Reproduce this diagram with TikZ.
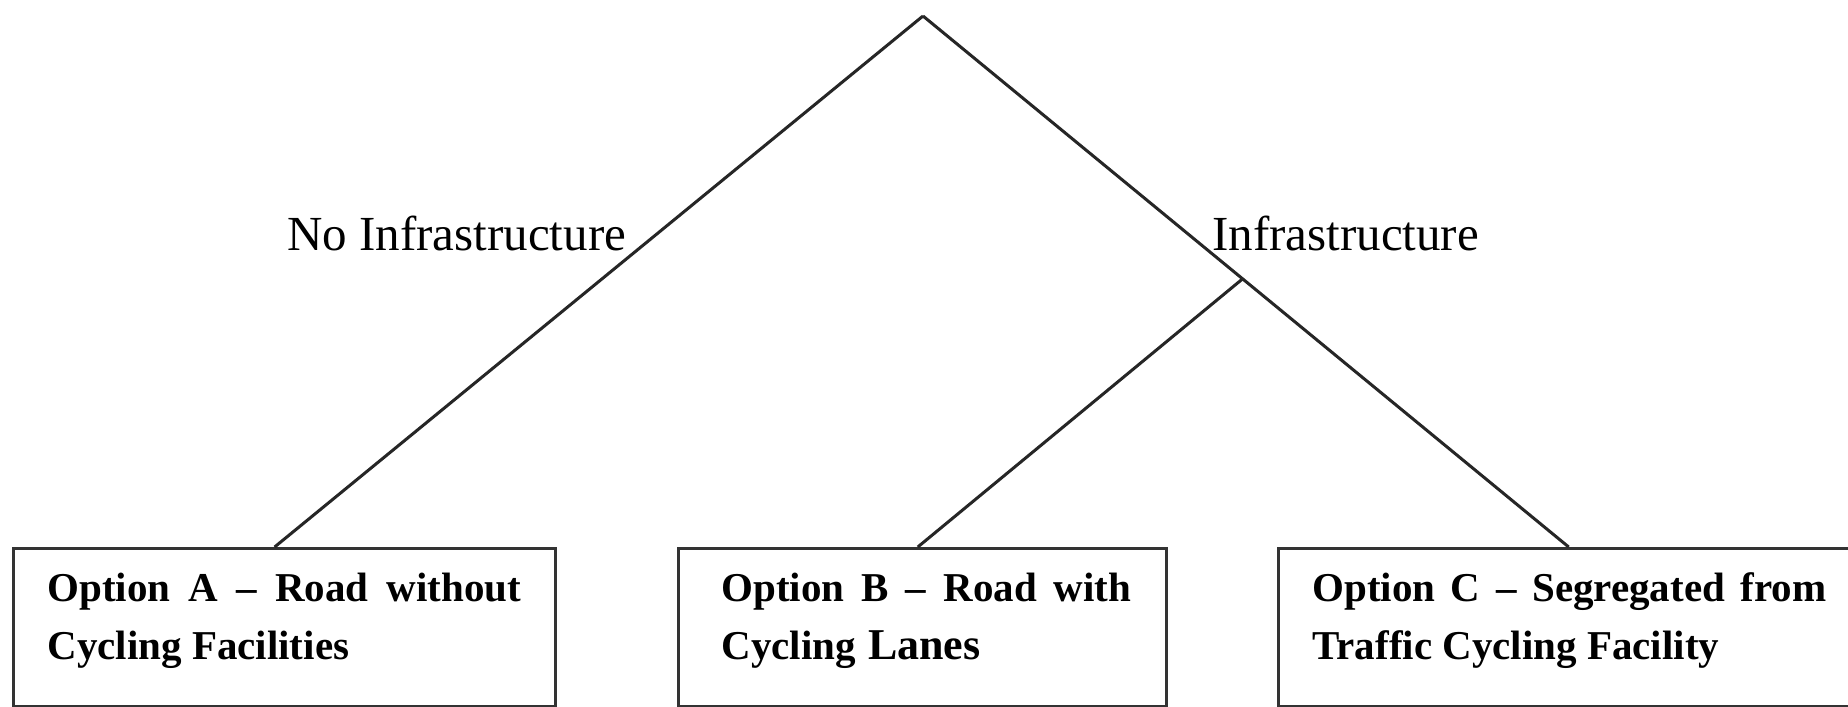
\documentclass[tikz,border=0pt]{standalone}
\usepackage{fontspec}
\setmainfont{Liberation Serif}
\usetikzlibrary{calc}
\begin{document}
\begin{tikzpicture}[x=0.5pt,y=-0.5pt,
  conn/.style={draw=black!85, line width=1.5pt},
  optbox/.style={draw=black!80, line width=1.7pt, rectangle, anchor=north west, inner sep=0pt, minimum height=79pt},
  branchlbl/.style={anchor=base west, inner sep=0pt, font=\fontsize{24.5}{29}\selectfont},
  boxtxt/.style={anchor=base west, inner sep=0pt, font=\fontsize{20.5}{29}\selectfont\bfseries}]
\useasboundingbox (0,0) rectangle (1848,707);
\fill[white] (0,0) rectangle (1848,707);
% option boxes
\node[optbox, minimum width=271pt] (A) at (12,547) {};
\node[optbox, minimum width=244pt] (B) at (677,547) {};
\node[optbox, minimum width=301.5pt] (C) at (1277,547) {};
% tree points
\coordinate (root) at (923,16);
\coordinate (atop) at ($(A.north west)!0.4815!(A.north east)$);
\coordinate (btop) at ($(B.north west)!0.49!(B.north east)$);
\coordinate (ctop) at ($(C.north west)!0.481!(C.north east)$);
\coordinate (br) at ($(root)!0.495!(ctop)$);
% connectors
\draw[conn] (root) -- (atop);
\draw[conn] (root) -- (ctop);
\draw[conn] (br) -- (btop);
% branch labels
\node[branchlbl] (lblNo) at (287,250) {No Infrastructure};
\node[branchlbl] (lblInf) at (1212,250) {Infrastructure};
% box texts
\node[boxtxt] (A1) at (47,601) {\makebox[237pt][s]{Option A – Road without}};
\node[boxtxt] (A2) at (47,659) {Cycling Facilities};
\node[boxtxt] (B1) at (721,601) {\makebox[205pt][s]{Option B – Road with}};
\node[boxtxt] (B2) at (721,659) {Cycling\hspace{0.3em}{\fontsize{22}{29}\selectfont Lanes}};
\node[boxtxt] (C1) at (1312,601) {\makebox[257pt][s]{Option C – Segregated from}};
\node[boxtxt] (C2) at (1312,659) {Traffic Cycling Facility};
\end{tikzpicture}
\end{document}
